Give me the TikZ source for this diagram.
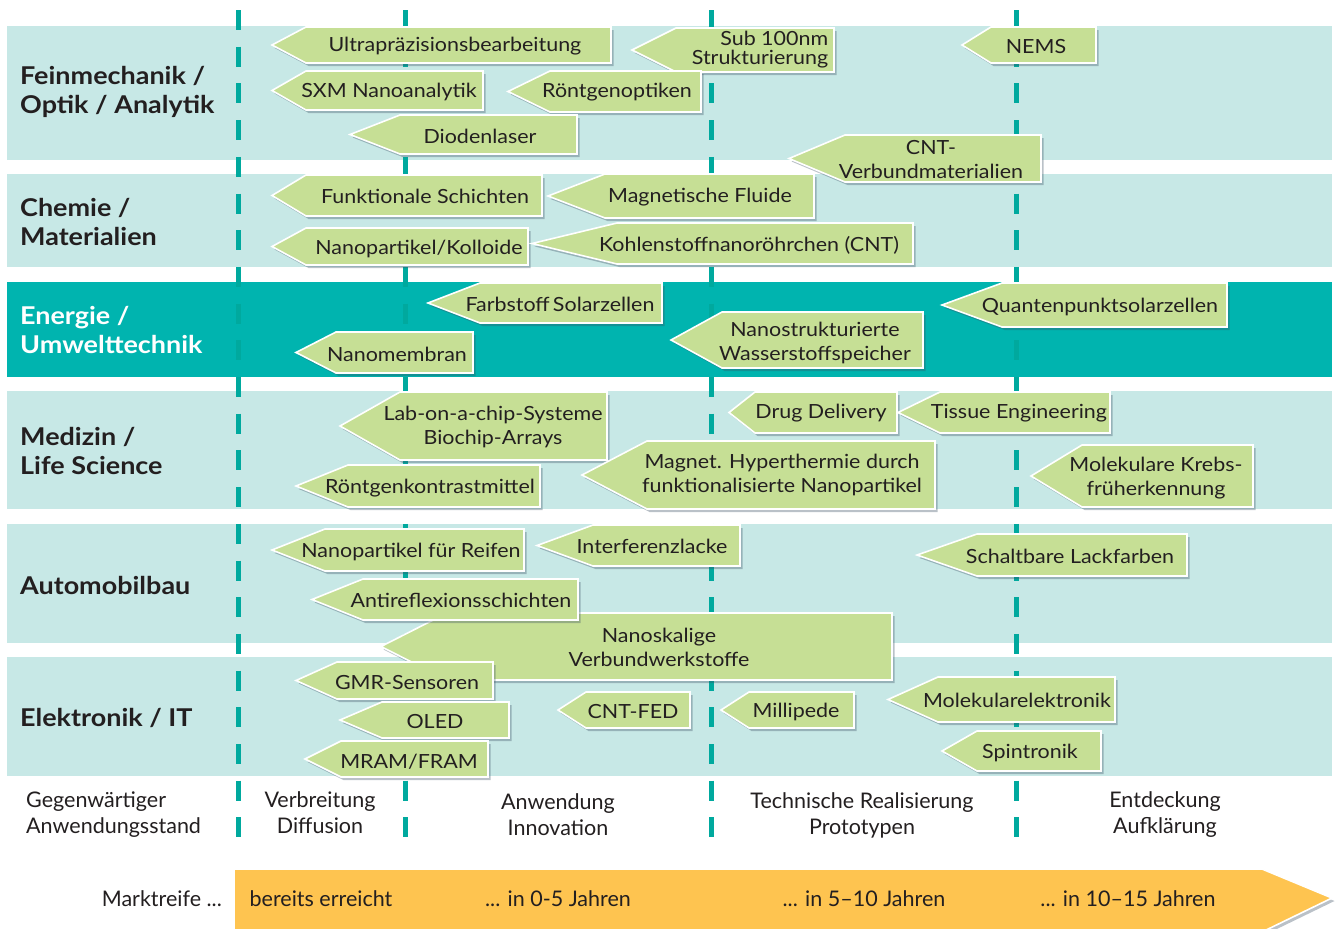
\documentclass[tikz,border=0pt]{standalone}
\usepackage{fontspec}
\setmainfont{Lato}[FakeStretch=1.1]
\newfontfamily\plainfont{Lato}
\usetikzlibrary{shadows}
\definecolor{bandc}{HTML}{C7E8E6}
\definecolor{tealc}{HTML}{00B4AF}
\definecolor{dashc}{HTML}{00A99E}
\definecolor{boxc}{HTML}{C6DF95}
\definecolor{orangec}{HTML}{FEC450}
\definecolor{txt}{HTML}{231F20}
\definecolor{shadc}{HTML}{3C5064}
\newcommand\tagbox[9]{%
  \path[tagshape] (#2,{(#5+#6)/2}) -- (#3,#5) -- (#4,#5) -- (#4,#6) -- (#3,#6) -- cycle;
  \node[tagtext] (#1) at (#7,#8) {#9};}
\begin{document}
\begin{tikzpicture}[x=1pt,y=-1pt,
  band/.style={fill=bandc, draw=none},
  tagshape/.style={fill=boxc, draw=white, line width=1.6pt, line join=miter,
    drop shadow={shadow xshift=2.5pt, shadow yshift=-3pt, opacity=.35, fill=shadc}},
  tagtext/.style={font=\fontsize{19.5}{24}\selectfont, text=txt, align=center, inner sep=0pt, yshift=-1.5pt},
  head/.style={font=\fontsize{24.5}{29}\selectfont\bfseries, text=txt, align=left, anchor=west, inner sep=0pt},
  vline/.style={draw=dashc, line width=5pt, dash pattern=on 20pt off 16.7pt},
  bot/.style={font=\plainfont\fontsize{21.5}{26}\selectfont, text=txt, align=center, inner sep=0pt},
  bartext/.style={font=\plainfont\fontsize{21.5}{22}\selectfont, text=txt, inner sep=0pt},
  barshape/.style={fill=orangec, draw=white, line width=1.6pt,
    drop shadow={shadow xshift=2.5pt, shadow yshift=-3pt, opacity=.35, fill=shadc}}]
\useasboundingbox (0,0) rectangle (1339,929);
\fill[white] (0,0) rectangle (1339,929);
% bands
\path[band] (7,26) rectangle (1332,160);
\path[band] (7,174) rectangle (1332,267);
\path[fill=tealc] (7,282) rectangle (1332,377);
\path[band] (7,391) rectangle (1332,509);
\path[band] (7,524) rectangle (1332,643);
\path[band] (7,657) rectangle (1332,776);
% dashed lines
\foreach \xx/\nm in {238/la,405/lb,711/lc,1016/ld}{
  \coordinate (\nm top) at (\xx,10);
  \coordinate (\nm bot) at (\xx,838);
  \draw[vline] (\nm top) -- (\nm bot);
}
% headings
\node[head] (h1) at (20,91.5) {Feinmechanik /\\Optik / Analytik};
\node[head] (h2) at (20,222) {Chemie /\\Materialien};
\node[head, text=white] (h3) at (20,330) {Energie /\\Umwelttechnik};
\node[head] (h4) at (20,451) {Medizin /\\Life Science};
\node[head] (h5) at (20,585) {Automobilbau};
\node[head] (h6) at (20,718) {Elektronik / IT};
% Feinmechanik
\tagbox{ultra}{272}{306}{611}{27}{63}{455}{45}{Ultrapräzisionsbearbeitung}
\tagbox{sub}{632}{676}{834}{28}{72}{760}{49}{\fontsize{19.5}{18.5}\selectfont\renewcommand\arraystretch{0.95}\begin{tabular}{@{}r@{}}Sub 100nm\\Strukturierung\end{tabular}}
\tagbox{nems}{962}{991}{1096}{27}{63}{1036}{45}{NEMS}
\tagbox{sxm}{272}{306}{483}{71}{110}{389}{90}{SXM Nanoanalytik}
\tagbox{roent}{508}{550}{701}{71}{112}{617}{91}{Röntgenoptiken}
\tagbox{diod}{350}{400}{577}{115}{154}{480}{135}{Diodenlaser}
\tagbox{cntv}{789}{845}{1041}{135}{182}{931}{158}{\fontsize{19.5}{19}\selectfont CNT-\\Verbundmaterialien}
% Chemie
\tagbox{funk}{272}{306}{542}{175}{216}{425}{195}{Funktionale Schichten}
\tagbox{magf}{548}{605}{814}{174}{218}{700}{196}{Magnetische Fluide}
\tagbox{kollo}{272}{306}{528}{228}{265}{419}{247}{Nanopartikel/Kolloide}
\tagbox{cnt}{532}{617}{913}{223}{264}{749}{244}{Kohlenstoffnanoröhrchen (CNT)}
% Energie
\tagbox{farb}{428}{480}{662}{283}{323}{560}{303}{Farbstoff\,Solarzellen}
\tagbox{memb}{296}{336}{473}{332}{373}{397}{353}{Nanomembran}
\tagbox{wass}{671}{722}{923}{312}{368}{815}{341}{Nanostrukturierte\\Wasserstoffspeicher}
\tagbox{quant}{942}{1002}{1227}{283}{327}{1100}{305}{Quantenpunktsolarzellen}
% Medizin
\tagbox{lab}{340}{400}{607}{392}{460}{493}{425}{Lab-on-a-chip-Systeme\\Biochip-Arrays}
\tagbox{kontr}{296}{348}{540}{465}{507}{430}{487}{Röntgenkontrastmittel}
\tagbox{drug}{729}{755}{897}{392}{433}{821}{412}{Drug Delivery}
\tagbox{tissue}{898}{940}{1110}{392}{433}{1019}{412}{Tissue Engineering}
\tagbox{hyper}{582}{647}{935}{441}{509}{782}{473}{Magnet. Hyperthermie durch\\funktionalisierte Nanopartikel}
\tagbox{krebs}{1031}{1082}{1253}{445}{507}{1156}{477}{Molekulare Krebs-\\früherkennung}
% Automobilbau
\tagbox{reif}{272}{325}{524}{529}{571}{411}{550}{Nanopartikel für Reifen}
\tagbox{inter}{537}{593}{740}{525}{566}{652}{545}{Interferenzlacke}
\tagbox{schalt}{917}{977}{1187}{534}{576}{1070}{555}{Schaltbare Lackfarben}
\tagbox{verb}{381}{447}{892}{613}{680}{659}{646}{Nanoskalige\\Verbundwerkstoffe}
\tagbox{anti}{312}{363}{578}{579}{620}{461}{599}{Antireflexionsschichten}
% Elektronik
\tagbox{gmr}{296}{337}{493}{662}{699}{407}{681}{GMR-Sensoren}
\tagbox{oled}{340}{382}{509}{702}{738}{435}{720}{OLED}
\tagbox{mram}{305}{341}{488}{741}{777}{409}{760}{MRAM/FRAM}
\tagbox{fed}{558}{586}{690}{692}{728}{633}{710}{CNT-FED}
\tagbox{milli}{721}{749}{854}{692}{728}{796}{710}{Millipede}
\tagbox{molel}{888}{938}{1115}{677}{722}{1017}{699}{Molekularelektronik}
\tagbox{spin}{942}{977}{1101}{731}{771}{1030}{751}{Spintronik}
% bottom labels
\node[bot, align=left, anchor=west] (cur) at (26,815) {Gegenwärtiger\\Anwendungsstand};
\node[bot] (dif) at (320,813) {Verbreitung\\Diffusion};
\node[bot] (inn) at (558,815) {Anwendung\\Innovation};
\node[bot] (pro) at (862,815) {Technische Realisierung\\Prototypen};
\node[bot] (auf) at (1165,815) {Entdeckung\\Aufklärung};
% bar
\path[barshape] (234,869) -- (1262,869) -- (1332,898) -- (1262,932) -- (234,932) -- cycle;
\node[bartext, anchor=east] (mk) at (222,899) {Marktreife ...};
\node[bartext] (t0) at (321,899) {bereits erreicht};
\node[bartext] (t1) at (558,899) {... in 0-5 Jahren};
\node[bartext] (t2) at (864,899) {... in 5–10 Jahren};
\node[bartext] (t3) at (1128,899) {... in 10–15 Jahren};
\end{tikzpicture}
\end{document}
